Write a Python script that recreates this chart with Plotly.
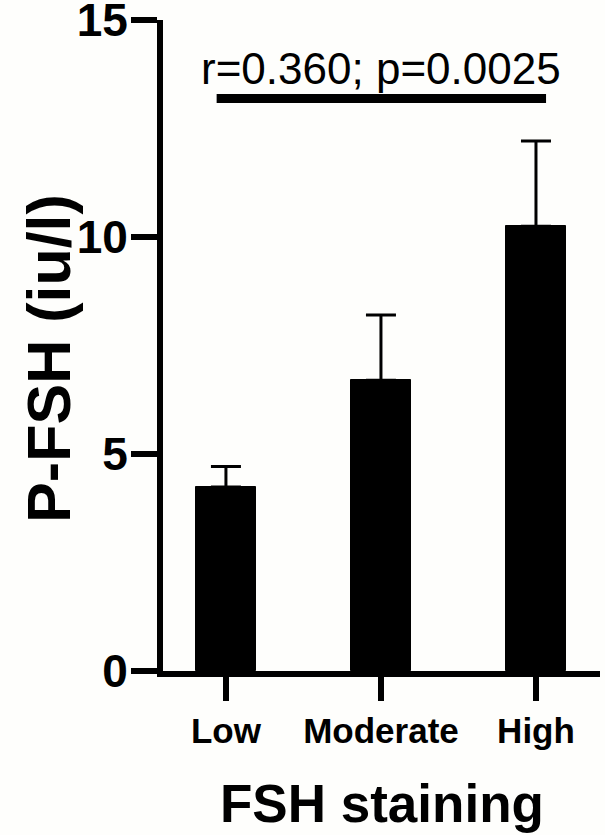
import plotly.graph_objects as go

categories = ["Low", "Moderate", "High"]
means = [4.24, 6.70, 10.25]
sem = [0.47, 1.50, 1.96]
y_ticks = [0, 5, 10, 15]
stat_text = "r=0.360; p=0.0025"
stat_line_y = 13.19
stat_line_x = [-0.06, 2.065]
x_title = "FSH staining"
y_title = "P-FSH (iu/l)"

FONT = "Liberation Sans, Arial, sans-serif"
BG = "#fefefc"

fig = go.Figure()
fig.add_trace(go.Bar(
    x=list(range(len(categories))),
    y=means,
    width=0.39,
    marker=dict(color="black", line=dict(color="black", width=1)),
    error_y=dict(type="data", array=sem, arrayminus=[0] * len(sem), symmetric=False,
                 color="black", thickness=3, width=15),
    showlegend=False,
))

fig.add_shape(type="line", xref="x", yref="y",
              x0=stat_line_x[0], x1=stat_line_x[1], y0=stat_line_y, y1=stat_line_y,
              line=dict(color="black", width=9))
fig.add_annotation(xref="x", yref="y", x=sum(stat_line_x) / 2, y=stat_line_y,
                   text=stat_text, showarrow=False, yanchor="bottom", yshift=4,
                   font=dict(family=FONT, size=44, color="black"))

fig.add_annotation(xref="paper", yref="paper", x=0.5, y=-0.203,
                   text=x_title, showarrow=False, xanchor="center", yanchor="middle",
                   font=dict(family=FONT, size=53, color="black", weight="bold"))
fig.add_annotation(xref="paper", yref="paper", x=-0.261, y=0.481, textangle=-90,
                   text=y_title, showarrow=False, xanchor="center", yanchor="middle",
                   font=dict(family=FONT, size=61, color="black", weight="bold"))

fig.update_layout(
    width=605, height=835,
    margin=dict(l=163, r=5, t=20, b=164),
    paper_bgcolor=BG, plot_bgcolor=BG,
    bargap=0,
    xaxis=dict(
        range=[-0.406, 2.413], automargin=False,
        tickmode="array", tickvals=list(range(len(categories))), ticktext=categories,
        showline=True, linecolor="black", linewidth=6,
        ticks="outside", ticklen=24, tickwidth=6, tickcolor="black",
        tickfont=dict(family=FONT, size=35, color="black", weight="bold"),
        showgrid=False, zeroline=False,
    ),
    yaxis=dict(
        range=[0, 15], automargin=False, ticklabeloverflow="allow",
        tickmode="array", tickvals=y_ticks, ticklabelstandoff=-6,
        showline=True, linecolor="black", linewidth=6,
        ticks="outside", ticklen=26, tickwidth=6, tickcolor="black",
        tickfont=dict(family=FONT, size=46, color="black", weight="bold"),
        showgrid=False, zeroline=False,
    ),
)

fig.write_html("out.html", config={"displayModeBar": False},
               post_script="document.body.style.margin='0';")
